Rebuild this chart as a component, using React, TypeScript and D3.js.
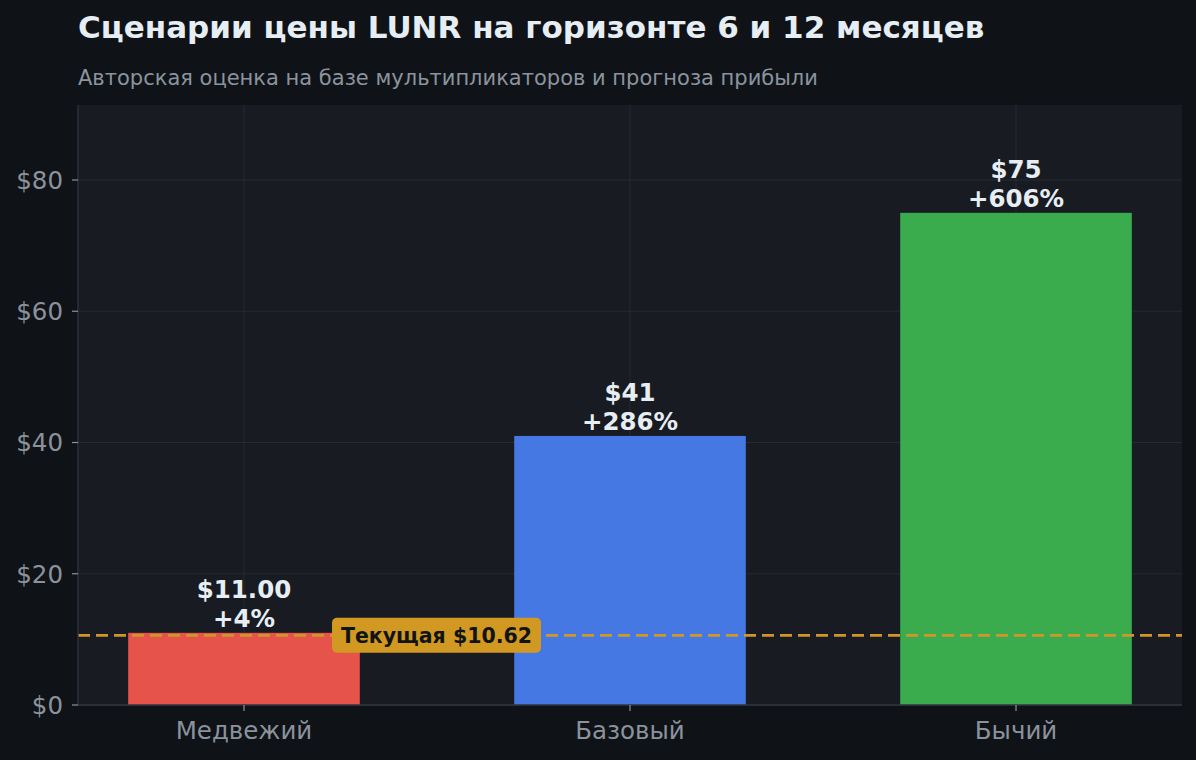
import React from "react";
import * as d3 from "d3";

const categories = ["Медвежий", "Базовый", "Бычий"];
const prices = [11.0, 41, 75];
const priceLabels = ["$11.00", "$41", "$75"];
const upsideLabels = ["+4%", "+286%", "+606%"];
const barColors = ["#e5534b", "#4678e3", "#3aac4e"];
const yTicks = [0, 20, 40, 60, 80];
const currentPrice = 10.62;
const currentLabel = "Текущая $10.62";
const title = "Сценарии цены LUNR на горизонте 6 и 12 месяцев";
const subtitle = "Авторская оценка на базе мультипликаторов и прогноза прибыли";

const W = 1196;
const H = 760;
const plot = { left: 78, right: 1182, top: 105, bottom: 705 };
const font = "'DejaVu Sans', sans-serif";

export default function App() {
  const x = d3.scaleLinear().domain([-0.43, 2.43]).range([plot.left, plot.right]);
  const y = d3.scaleLinear().domain([0, 91.43]).range([plot.bottom, plot.top]);
  const barW = x(0.6) - x(0);
  const yc = y(currentPrice);
  const labelCx = 436.5;

  return (
    <svg width={W} height={H} style={{ position: "absolute", left: 0, top: 0, display: "block" }}>
      <rect x={0} y={0} width={W} height={H} fill="#0f1317" />
      <rect x={plot.left} y={plot.top} width={plot.right - plot.left} height={plot.bottom - plot.top} fill="#181b22" />
      {yTicks.map((t) => (
        <line key={"gy" + t} x1={plot.left} x2={plot.right} y1={y(t)} y2={y(t)} stroke="#262a33" strokeWidth={1} />
      ))}
      {categories.map((c, i) => (
        <line key={"gx" + i} x1={x(i)} x2={x(i)} y1={plot.top} y2={plot.bottom} stroke="#262a33" strokeWidth={1} />
      ))}
      {prices.map((p, i) => (
        <rect key={"b" + i} x={x(i) - barW / 2} y={y(p)} width={barW} height={y(0) - y(p)} fill={barColors[i]} />
      ))}
      <line x1={plot.left} x2={plot.right} y1={yc} y2={yc} stroke="#d0962a" strokeWidth={2.8} strokeDasharray="12,6" />
      <line x1={plot.left} x2={plot.left} y1={plot.top} y2={plot.bottom} stroke="#30343c" strokeWidth={1.3} />
      <line x1={plot.left} x2={plot.right} y1={plot.bottom} y2={plot.bottom} stroke="#30343c" strokeWidth={1.3} />
      {yTicks.map((t) => (
        <g key={"ty" + t}>
          <line x1={plot.left - 6} x2={plot.left} y1={y(t)} y2={y(t)} stroke="#8b929c" strokeWidth={1.2} />
          <text x={plot.left - 15} y={y(t)} dy="0.36em" textAnchor="end" fill="#8b929c" fontSize={24.5} fontFamily={font}>
            {"$" + t}
          </text>
        </g>
      ))}
      {categories.map((c, i) => (
        <g key={"tx" + i}>
          <line x1={x(i)} x2={x(i)} y1={plot.bottom} y2={plot.bottom + 6} stroke="#8b929c" strokeWidth={1.2} />
          <text x={x(i)} y={plot.bottom + 34} textAnchor="middle" fill="#8b929c" fontSize={24.5} fontFamily={font}>
            {c}
          </text>
        </g>
      ))}
      {prices.map((p, i) => (
        <g key={"l" + i}>
          <text x={x(i)} y={y(p) - 35} textAnchor="middle" fill="#e6edf3" fontSize={24.5} fontWeight="bold" fontFamily={font}>
            {priceLabels[i]}
          </text>
          <text x={x(i)} y={y(p) - 6} textAnchor="middle" fill="#e6edf3" fontSize={24.5} fontWeight="bold" fontFamily={font}>
            {upsideLabels[i]}
          </text>
        </g>
      ))}
      <rect x={labelCx - 104.5} y={yc - 17.5} width={209} height={35} rx={5} fill="#d29922" />
      <text x={labelCx} y={yc} dy="0.36em" textAnchor="middle" fill="#111417" fontSize={20.5} fontWeight="bold" fontFamily={font}>
        {currentLabel}
      </text>
      <text x={78} y={38} fill="#e6edf3" fontSize={31} fontWeight="bold" fontFamily={font}>
        {title}
      </text>
      <text x={78} y={85} fill="#8b949e" fontSize={21} fontFamily={font}>
        {subtitle}
      </text>
    </svg>
  );
}
